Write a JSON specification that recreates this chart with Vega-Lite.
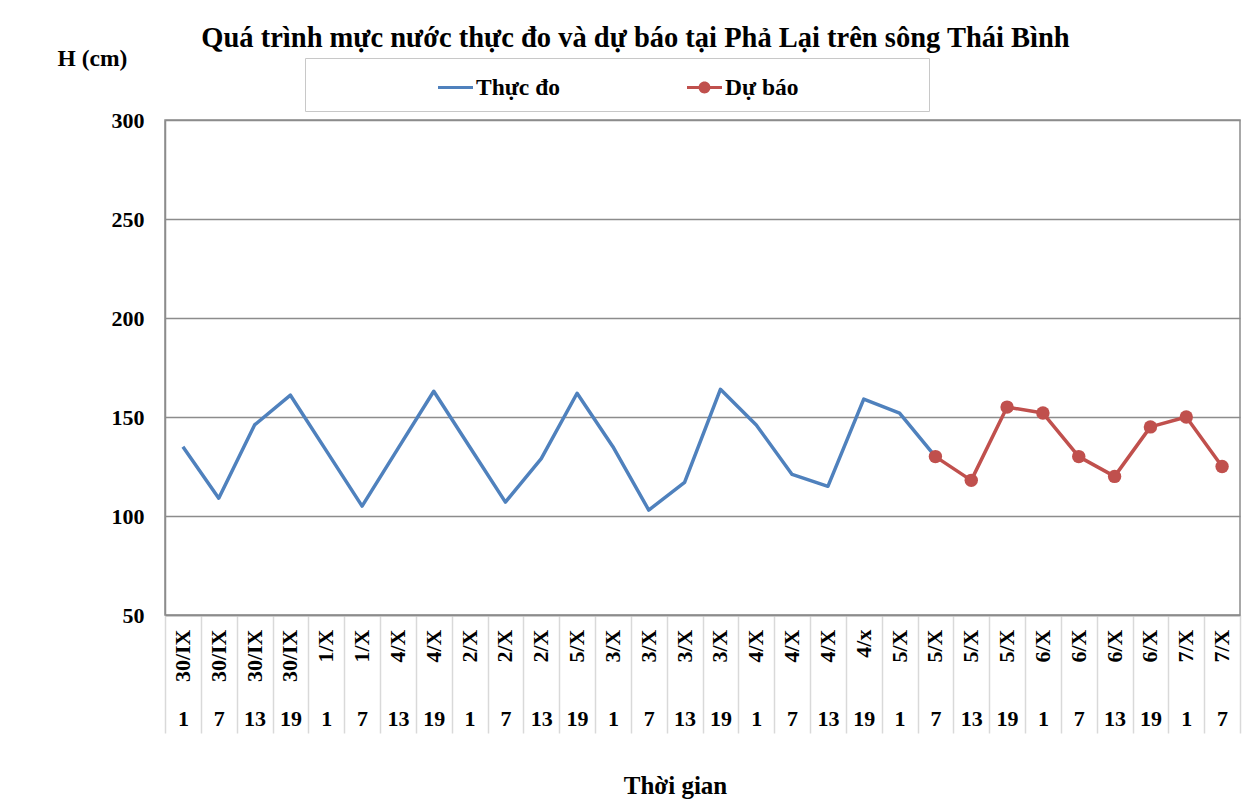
{
  "$schema": "https://vega.github.io/schema/vega-lite/v6.json",
  "width": 1075,
  "height": 495,
  "autosize": {"type": "none"},
  "padding": {"left": 165, "top": 120, "right": 17, "bottom": 190},
  "background": "white",
  "config": {
    "font": "Liberation Serif",
    "view": {"stroke": "#8c8c8c", "strokeWidth": 1.5}
  },
  "title": {
    "text": "Quá trình mực nước thực đo và dự báo tại Phả Lại trên sông Thái Bình",
    "font": "Liberation Serif",
    "fontSize": 28.5,
    "fontWeight": "bold",
    "color": "black",
    "anchor": "middle",
    "frame": "group",
    "dx": -67,
    "dy": 6,
    "offset": 0
  },
  "data": {
    "values": [
      {"k": "01|30/IX|1", "s": "Thực đo", "v": 135},
      {"k": "02|30/IX|7", "s": "Thực đo", "v": 109},
      {"k": "03|30/IX|13", "s": "Thực đo", "v": 146},
      {"k": "04|30/IX|19", "s": "Thực đo", "v": 161},
      {"k": "05|1/X|1", "s": "Thực đo", "v": 133},
      {"k": "06|1/X|7", "s": "Thực đo", "v": 105},
      {"k": "07|4/X|13", "s": "Thực đo", "v": 134},
      {"k": "08|4/X|19", "s": "Thực đo", "v": 163},
      {"k": "09|2/X|1", "s": "Thực đo", "v": 135},
      {"k": "10|2/X|7", "s": "Thực đo", "v": 107},
      {"k": "11|2/X|13", "s": "Thực đo", "v": 129},
      {"k": "12|5/X|19", "s": "Thực đo", "v": 162},
      {"k": "13|3/X|1", "s": "Thực đo", "v": 135},
      {"k": "14|3/X|7", "s": "Thực đo", "v": 103},
      {"k": "15|3/X|13", "s": "Thực đo", "v": 117},
      {"k": "16|3/X|19", "s": "Thực đo", "v": 164},
      {"k": "17|4/X|1", "s": "Thực đo", "v": 146},
      {"k": "18|4/X|7", "s": "Thực đo", "v": 121},
      {"k": "19|4/X|13", "s": "Thực đo", "v": 115},
      {"k": "20|4/x|19", "s": "Thực đo", "v": 159},
      {"k": "21|5/X|1", "s": "Thực đo", "v": 152},
      {"k": "22|5/X|7", "s": "Thực đo", "v": 130},
      {"k": "22|5/X|7", "s": "Dự báo", "v": 130},
      {"k": "23|5/X|13", "s": "Dự báo", "v": 118},
      {"k": "24|5/X|19", "s": "Dự báo", "v": 155},
      {"k": "25|6/X|1", "s": "Dự báo", "v": 152},
      {"k": "26|6/X|7", "s": "Dự báo", "v": 130},
      {"k": "27|6/X|13", "s": "Dự báo", "v": 120},
      {"k": "28|6/X|19", "s": "Dự báo", "v": 145},
      {"k": "29|7/X|1", "s": "Dự báo", "v": 150},
      {"k": "30|7/X|7", "s": "Dự báo", "v": 125}
    ]
  },
  "encoding": {
    "y": {
      "field": "v",
      "type": "quantitative",
      "scale": {"domain": [50, 300], "nice": false, "zero": false},
      "axis": {
        "values": [50, 100, 150, 200, 250, 300],
        "grid": true,
        "gridColor": "#8c8c8c",
        "gridWidth": 1.5,
        "ticks": false,
        "domain": true,
        "domainColor": "#8c8c8c",
        "domainWidth": 1.5,
        "labelPadding": 21,
        "labelFont": "Liberation Serif",
        "labelFontSize": 22,
        "labelFontWeight": "bold",
        "labelColor": "black",
        "title": "H (cm)",
        "titleAngle": 0,
        "titleX": -108,
        "titleY": -55,
        "titleAlign": "left",
        "titleBaseline": "alphabetic",
        "titleFont": "Liberation Serif",
        "titleFontSize": 23.5,
        "titleFontWeight": "bold",
        "titleColor": "black"
      }
    },
    "color": {
      "field": "s",
      "type": "nominal",
      "scale": {"domain": ["Thực đo", "Dự báo"], "range": ["#4f81bd", "#c0504d"]},
      "legend": {
        "orient": "none",
        "legendX": 140,
        "legendY": -62,
        "direction": "horizontal",
        "title": "\u200b\u00a0\u00a0\u00a0\u00a0\u00a0\u00a0\u00a0\u00a0\u00a0\u00a0\u00a0\u00a0\u00a0\u00a0\u00a0\u00a0\u00a0\u00a0\u00a0\u00a0\u00a0\u200b",
        "titleOrient": "left",
        "titleFont": "Liberation Serif",
        "titleFontSize": 22,
        "titleFontWeight": "normal",
        "titlePadding": 5,
        "padding": 12,
        "columnPadding": 127,
        "strokeColor": "#c8c8c8",
        "fillColor": "white",
        "labelFont": "Liberation Serif",
        "labelFontSize": 23.5,
        "labelFontWeight": "bold",
        "labelColor": "black",
        "labelLimit": 400,
        "labelOffset": 3,
        "labelExpr": "datum.label == 'Dự báo' ? datum.label + '\u00a0\u00a0\u00a0\u00a0\u00a0\u00a0\u00a0\u00a0\u00a0\u00a0\u00a0\u00a0\u00a0\u00a0\u00a0\u00a0\u00a0\u00a0\u00a0\u00a0\u200b' : datum.label",
        "symbolSize": 1225,
        "symbolStrokeWidth": 0,
        "encode": {
          "symbols": {
            "update": {
              "shape": {"signal": "datum.value == 'Dự báo' ? 'M-1,-0.09L1,-0.09L1,0.09L-1,0.09Z M0.34,0A0.34,0.34 0 1,1 -0.34,0A0.34,0.34 0 1,1 0.34,0Z' : 'M-1,-0.09L1,-0.09L1,0.09L-1,0.09Z'"},
              "fill": {"signal": "datum.value == 'Dự báo' ? '#c0504d' : '#4f81bd'"},
              "fillOpacity": {"value": 1},
              "strokeWidth": {"value": 0}
            }
          }
        }
      }
    }
  },
  "layer": [
    {
      "transform": [{"filter": "datum.s == 'Thực đo'"}],
      "mark": {"type": "line", "strokeWidth": 3.5, "strokeJoin": "round"},
      "encoding": {
        "x": {
          "field": "k",
          "type": "ordinal",
          "sort": "ascending",
          "scale": {"paddingInner": 0, "paddingOuter": 0},
          "axis": {
            "orient": "bottom",
            "labelExpr": "split(datum.label, '|')[1]",
            "labelAngle": 270,
            "labelAlign": "right",
            "labelBaseline": "middle",
            "labelPadding": 14,
            "ticks": false,
            "domain": false,
            "grid": false,
            "labelFont": "Liberation Serif",
            "labelFontSize": 22,
            "labelFontWeight": "bold",
            "labelColor": "black",
            "title": null
          }
        }
      }
    },
    {
      "transform": [{"filter": "datum.s == 'Dự báo'"}],
      "mark": {"type": "line", "strokeWidth": 3.5, "strokeJoin": "round", "point": {"filled": true, "size": 180, "color": "#c0504d"}},
      "encoding": {
        "x": {
          "field": "k",
          "type": "ordinal",
          "sort": "ascending",
          "scale": {"paddingInner": 0, "paddingOuter": 0},
          "axis": {
            "orient": "bottom",
            "labelExpr": "split(datum.label, '|')[2]",
            "labelAngle": 0,
            "labelAlign": "center",
            "labelBaseline": "alphabetic",
            "labelPadding": -8,
            "tickBand": "extent",
            "ticks": true,
            "tickSize": 118,
            "tickColor": "#d9d9d9",
            "tickWidth": 1.5,
            "domain": true,
            "domainColor": "#8c8c8c",
            "domainWidth": 1.5,
            "grid": false,
            "labelFont": "Liberation Serif",
            "labelFontSize": 22,
            "labelFontWeight": "bold",
            "labelColor": "black",
            "title": "Thời gian",
            "titleX": 510,
            "titleY": 178,
            "titleAlign": "center",
            "titleBaseline": "alphabetic",
            "titleFont": "Liberation Serif",
            "titleFontSize": 25,
            "titleFontWeight": "bold",
            "titleColor": "black"
          }
        }
      }
    }
  ],
  "resolve": {"axis": {"x": "independent"}}
}
